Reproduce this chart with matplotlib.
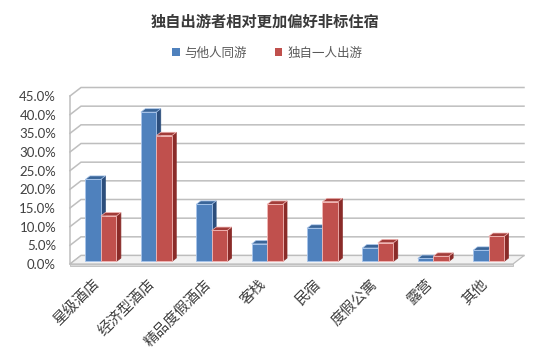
import matplotlib
matplotlib.use("Agg")
import matplotlib.pyplot as plt
from matplotlib.patches import Polygon, Patch
import matplotlib.transforms as mtransforms

plt.rcParams['font.family'] = ['Noto Sans CJK SC', 'DejaVu Sans']

title = '独自出游者相对更加偏好非标住宿'
categories = ['星级酒店', '经济型酒店', '精品度假酒店', '客栈', '民宿', '度假公寓', '露营', '其他']
series_names = ['与他人同游', '独自一人出游']
with_others = [0.220, 0.400, 0.153, 0.047, 0.089, 0.036, 0.008, 0.030]
solo = [0.122, 0.337, 0.083, 0.153, 0.160, 0.050, 0.014, 0.067]
yticks = [0.0, 0.05, 0.10, 0.15, 0.20, 0.25, 0.30, 0.35, 0.40, 0.45]

# colours: front, side, top, edge
blue = ('#4F81BD', '#2C4E7C', '#3A6598', '#A9C6EC')
red = ('#C0504D', '#8A2B29', '#A23C39', '#F3B9B7')

fig = plt.figure(figsize=(5.54, 3.55), dpi=100)
# axes = front plane of the 3d box
ax = fig.add_axes([70 / 554, 91 / 355, 443 / 554, 168 / 355])
n = len(categories)
ax.set_xlim(0, n)
ax.set_ylim(0, 0.45)
for s in ax.spines.values():
    s.set_visible(False)

# depth of the box in data units
DX = 11 * n / 443
DY = 8.5 * 0.45 / 168
grid_c = '#BEBEBE'

# back wall and left wall gridlines
for v in yticks:
    ax.plot([0, DX, n + DX], [v, v + DY, v + DY], color=grid_c, lw=1.1,
            clip_on=False, zorder=1, solid_joinstyle='miter')
ax.plot([0, 0], [0, yticks[-1]], color=grid_c, lw=1.1, clip_on=False, zorder=1)

# floor
floor = Polygon([(0, 0), (n, 0), (n + DX, DY), (DX, DY)], closed=True,
                facecolor='#F2F2F2', edgecolor='#BDBDBD', lw=0.9,
                clip_on=False, zorder=2)
ax.add_patch(floor)
ax.add_patch(Polygon([(0, 0), (n, 0), (n, -0.006), (0, -0.006)], closed=True,
                     facecolor='#D9D9D9', edgecolor='#BDBDBD', lw=0.6,
                     clip_on=False, zorder=2))

w = 0.28
f0, f1 = 0.3, 0.7


def bar3d(x0, val, cols, z):
    front, side, top, edge = cols
    bx, by = f0 * DX, f0 * DY
    ddx, ddy = (f1 - f0) * DX, (f1 - f0) * DY
    x1 = x0 + w
    ax.add_patch(Polygon([(x1 + bx, by), (x1 + bx + ddx, by + ddy),
                          (x1 + bx + ddx, val + by + ddy), (x1 + bx, val + by)],
                         closed=True, facecolor=side, edgecolor=side, lw=0.5,
                         clip_on=False, zorder=z))
    ax.add_patch(Polygon([(x0 + bx, val + by), (x1 + bx, val + by),
                          (x1 + bx + ddx, val + by + ddy), (x0 + bx + ddx, val + by + ddy)],
                         closed=True, facecolor=top, edgecolor=edge, lw=0.5,
                         clip_on=False, zorder=z))
    ax.bar(x0 + bx, val, width=w, bottom=by, align='edge', color=front,
           edgecolor=edge, linewidth=0.6, zorder=z, clip_on=False)


for i in range(n):
    c = i + 0.5
    bar3d(c - w, with_others[i], blue, 3 + 2 * i)
    bar3d(c, solo[i], red, 4 + 2 * i)

# y tick labels
ax.set_yticks(yticks)
ax.set_yticklabels([f'{v * 100:.1f}%' for v in yticks], family='Lato',
                   fontsize=9.5, color='#404040')
ax.tick_params(axis='y', length=0, pad=10)
ax.set_xticks([])

# x category labels
off = mtransforms.offset_copy(ax.transData, fig=fig, x=0, y=-13, units='points')
for i, name in enumerate(categories):
    ax.text(i + 0.5, 0, name, transform=off, rotation=45, rotation_mode='anchor',
            ha='right', va='center', fontsize=10.5, color='#404040')

fig.text(0.478, 1 - 22 / 355, title, ha='center', va='center', fontsize=11,
         fontweight='bold', color='#3A3A3A')

handles = [Patch(facecolor=blue[0], edgecolor='none'),
           Patch(facecolor=red[0], edgecolor='none')]
fig.legend(handles, series_names, loc='center', bbox_to_anchor=(0.482, 1 - 53 / 355),
           ncol=2, frameon=False, fontsize=9, handlelength=0.6, handleheight=0.6,
           handletextpad=0.4, columnspacing=2.2, labelcolor='#595959')

fig.savefig('out.png', dpi=100, facecolor='white')
